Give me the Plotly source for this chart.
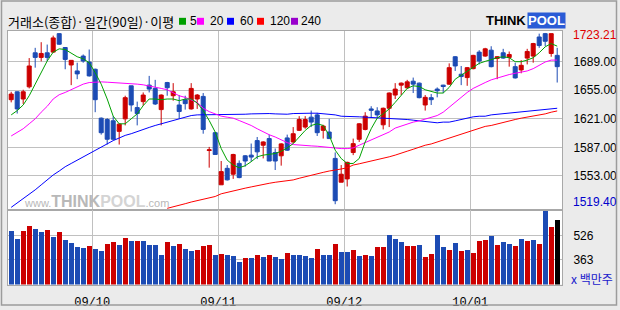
import plotly.graph_objects as go

# ---------------- data ----------------
opens = [1643.8, 1653.2, 1644.6, 1659.1, 1699.6, 1694.1, 1699.6, 1700.4, 1722.4, 1705.9,
         1685.1, 1678.0, 1695.7, 1688.6, 1680.0, 1621.8, 1620.2, 1618.7, 1606.1, 1621.0,
         1660.3, 1634.4, 1641.5, 1661.1, 1657.2, 1632.0, 1664.2, 1648.5, 1637.5, 1643.8,
         1632.8, 1644.6, 1647.7, 1583.3, 1604.5, 1542.5, 1562.1, 1555.1, 1568.0, 1577.0,
         1577.8, 1595.1, 1589.6, 1597.5, 1580.9, 1577.0, 1598.3, 1593.5, 1607.3, 1611.2,
         1623.0, 1625.7, 1607.3, 1605.3, 1573.9, 1545.6, 1549.5, 1580.9, 1596.7, 1608.4,
         1632.8, 1630.4, 1613.9, 1633.6, 1649.3, 1661.1, 1658.0, 1665.8, 1663.5, 1637.5,
         1646.2, 1656.4, 1661.1, 1662.3, 1694.9, 1674.1, 1670.1, 1680.7, 1700.4, 1695.7,
         1702.7, 1692.9, 1699.6, 1694.1, 1683.1, 1679.2, 1693.3, 1695.7, 1718.4, 1722.4,
         1698.8, 1696.5]
highs = [1653.2, 1653.6, 1655.6, 1693.3, 1705.5, 1712.2, 1709.4, 1720.0, 1722.8, 1706.3,
         1690.6, 1687.8, 1697.6, 1703.5, 1680.7, 1622.6, 1621.8, 1624.2, 1615.5, 1648.5,
         1660.3, 1641.5, 1652.4, 1672.1, 1667.4, 1650.1, 1665.0, 1663.5, 1649.3, 1648.5,
         1663.5, 1650.5, 1651.7, 1587.6, 1605.3, 1570.8, 1566.0, 1579.4, 1571.5, 1577.8,
         1591.6, 1599.4, 1594.3, 1602.2, 1585.7, 1592.0, 1602.2, 1611.2, 1624.2, 1624.2,
         1630.8, 1628.1, 1613.9, 1621.0, 1581.0, 1566.0, 1570.0, 1597.5, 1615.9, 1628.9,
         1636.0, 1634.8, 1634.4, 1652.4, 1663.5, 1664.2, 1667.4, 1670.1, 1664.2, 1649.3,
         1650.5, 1658.4, 1661.5, 1687.0, 1695.7, 1683.9, 1682.7, 1697.2, 1702.7, 1705.5,
         1707.4, 1695.7, 1704.3, 1701.1, 1687.8, 1690.9, 1704.3, 1711.4, 1722.4, 1723.21,
         1722.4, 1705.5]
lows = [1640.6, 1627.3, 1638.7, 1657.2, 1681.9, 1689.4, 1689.8, 1699.6, 1709.0, 1680.0,
        1661.1, 1668.2, 1687.8, 1671.3, 1628.9, 1602.2, 1590.4, 1595.9, 1590.4, 1613.2,
        1629.7, 1613.2, 1636.7, 1652.4, 1637.5, 1613.2, 1648.5, 1642.6, 1621.0, 1632.0,
        1632.0, 1632.8, 1603.3, 1562.9, 1578.6, 1542.5, 1547.6, 1549.5, 1550.3, 1564.1,
        1570.0, 1573.1, 1573.9, 1570.8, 1560.1, 1565.3, 1582.9, 1591.6, 1606.5, 1609.2,
        1611.2, 1600.6, 1597.5, 1597.5, 1519.4, 1545.6, 1540.5, 1577.8, 1593.5, 1607.3,
        1623.0, 1621.8, 1608.4, 1611.2, 1644.6, 1649.3, 1656.4, 1651.7, 1645.4, 1630.8,
        1637.5, 1646.6, 1651.7, 1661.5, 1678.0, 1661.1, 1660.3, 1680.0, 1685.8, 1694.9,
        1682.3, 1668.2, 1692.5, 1683.1, 1668.9, 1675.2, 1685.8, 1687.8, 1705.5, 1707.4,
        1694.9, 1664.2]
closes = [1650.5, 1632.8, 1653.2, 1683.9, 1694.1, 1698.8, 1694.1, 1717.3, 1709.8, 1691.7,
          1690.6, 1674.5, 1689.8, 1672.1, 1643.8, 1604.5, 1596.7, 1596.7, 1614.7, 1646.2,
          1637.5, 1627.3, 1649.3, 1656.4, 1638.7, 1649.3, 1658.0, 1653.2, 1629.7, 1639.1,
          1657.2, 1649.3, 1608.4, 1584.1, 1578.6, 1558.2, 1548.4, 1578.6, 1551.1, 1570.8,
          1575.5, 1581.7, 1593.5, 1570.8, 1570.8, 1591.2, 1583.7, 1603.3, 1620.2, 1620.2,
          1617.1, 1604.5, 1612.4, 1597.5, 1523.6, 1555.1, 1569.2, 1591.5, 1615.1, 1624.2,
          1631.2, 1625.7, 1633.6, 1651.7, 1656.4, 1663.5, 1665.0, 1662.3, 1646.2, 1646.6,
          1643.8, 1654.4, 1659.5, 1681.9, 1683.9, 1671.3, 1681.9, 1696.5, 1689.8, 1704.3,
          1683.1, 1694.9, 1693.3, 1697.6, 1669.7, 1684.7, 1701.2, 1710.6, 1708.2, 1713.3,
          1722.4, 1683.1]

ma5 = [1625.7, 1630.8, 1637.5, 1648.5, 1662.3, 1676.0, 1689.8, 1700.4, 1704.3, 1703.5,
       1698.8, 1694.9, 1692.5, 1687.8, 1676.0, 1662.3, 1644.6, 1624.2, 1615.1, 1615.1,
       1621.0, 1626.9, 1636.7, 1644.6, 1644.6, 1643.8, 1644.6, 1644.6, 1642.6, 1644.6,
       1644.6, 1639.9, 1630.8, 1619.0, 1605.3, 1585.7, 1571.9, 1566.0, 1562.8, 1565.2,
       1570.0, 1575.8, 1577.8, 1578.6, 1579.7, 1582.5, 1586.4, 1591.5, 1599.4, 1607.2,
       1613.1, 1615.1, 1613.1, 1601.3, 1583.7, 1573.8, 1567.9, 1567.9, 1573.8, 1593.5,
       1609.2, 1621.8, 1626.9, 1632.8, 1640.6, 1648.5, 1657.2, 1660.3, 1659.5, 1655.6,
       1653.2, 1651.7, 1651.7, 1658.4, 1668.2, 1672.9, 1678.0, 1683.1, 1687.0, 1689.4,
       1691.7, 1693.7, 1694.9, 1693.7, 1689.0, 1689.0, 1690.9, 1693.7, 1699.6, 1706.7,
       1710.6, 1707.5]
ma20 = [1600.6, 1604.5, 1609.2, 1615.1, 1621.0, 1628.9, 1635.9, 1644.6, 1649.7, 1652.4,
        1655.6, 1659.5, 1662.3, 1664.2, 1665.0, 1665.0, 1664.6, 1664.2, 1664.2, 1663.4,
        1663.0, 1662.3, 1661.5, 1660.3, 1658.4, 1657.2, 1655.6, 1652.4, 1648.5, 1646.5,
        1643.8, 1640.6, 1633.6, 1629.6, 1626.9, 1624.2, 1623.0, 1621.8, 1619.0, 1616.3,
        1613.1, 1609.2, 1605.3, 1602.1, 1599.4, 1596.0, 1592.7, 1590.4, 1589.6, 1588.8,
        1588.8, 1588.4, 1587.6, 1586.4, 1585.6, 1585.6, 1585.6, 1586.4, 1589.6, 1592.7,
        1595.4, 1598.2, 1601.3, 1605.3, 1610.0, 1612.3, 1615.1, 1617.1, 1618.6, 1621.0,
        1623.0, 1624.9, 1628.9, 1634.8, 1640.6, 1646.5, 1652.4, 1657.2, 1661.1, 1664.2,
        1667.4, 1669.7, 1672.1, 1673.7, 1675.2, 1676.8, 1678.0, 1680.7, 1684.7, 1688.6,
        1690.9, 1690.9]
ma60 = [1515.7, 1520.8, 1525.9, 1531.4, 1536.5, 1542.4, 1548.3, 1554.2, 1558.9, 1564.0,
        1567.9, 1571.9, 1575.8, 1579.7, 1583.3, 1587.6, 1591.5, 1595.1, 1598.2, 1601.3,
        1603.3, 1606.1, 1608.4, 1610.8, 1613.1, 1615.1, 1617.1, 1619.8, 1621.8, 1623.4,
        1624.9, 1625.7, 1625.7, 1626.1, 1626.5, 1625.7, 1625.7, 1626.1, 1626.5, 1626.5,
        1626.9, 1627.3, 1627.3, 1627.3, 1626.9, 1626.5, 1626.5, 1627.3, 1627.7, 1627.7,
        1627.7, 1627.7, 1627.3, 1626.5, 1625.7, 1624.1, 1624.1, 1624.1, 1623.4, 1623.0,
        1622.6, 1622.6, 1621.8, 1621.8, 1621.8, 1621.0, 1620.2, 1619.4, 1618.6, 1617.1,
        1617.1, 1616.3, 1617.1, 1617.1, 1618.6, 1620.2, 1621.8, 1623.4, 1624.1, 1624.1,
        1625.7, 1626.5, 1627.3, 1628.1, 1628.1, 1628.9, 1629.6, 1630.4, 1632.0, 1632.8,
        1633.6, 1633.6]
ma120 = [None] * 26 + [
        1514.5, 1516.1, 1518.0, 1520.0, 1522.0, 1523.5, 1525.1, 1526.7, 1528.6, 1531.8,
        1533.7, 1535.3, 1536.9, 1538.5, 1540.0, 1541.6, 1543.2, 1544.3, 1545.5, 1546.3,
        1547.9, 1548.3, 1550.3, 1552.2, 1554.2, 1555.8, 1557.3, 1558.9, 1559.7, 1561.3,
        1562.8, 1566.0, 1567.5, 1569.1, 1570.7, 1571.9, 1573.8, 1575.8, 1577.8, 1579.7,
        1582.5, 1584.8, 1587.6, 1589.6, 1591.1, 1593.5, 1595.4, 1598.2, 1600.6, 1602.9,
        1605.3, 1607.6, 1610.0, 1612.0, 1613.1, 1615.1, 1617.1, 1619.0, 1620.2, 1621.8,
        1623.0, 1624.2, 1625.7, 1626.9, 1628.9, 1630.4]

volume = [550.6, 497.0, 550.6, 584.1, 564.0, 543.9, 557.3, 510.4, 543.9, 490.3,
          470.2, 443.4, 436.7, 450.1, 430.0, 416.6, 463.5, 476.9, 456.8, 503.7,
          483.6, 483.6, 483.6, 456.8, 456.8, 389.8, 476.9, 450.1, 463.5, 430.0,
          416.6, 423.3, 450.1, 456.8, 389.8, 396.5, 389.8, 383.1, 342.9, 369.7,
          369.7, 389.8, 376.4, 389.8, 376.4, 363.0, 403.2, 389.8, 389.8, 380.9,
          369.7, 430.0, 389.8, 389.8, 463.5, 409.9, 409.9, 423.3, 383.1, 389.8,
          383.1, 443.4, 443.4, 523.8, 497.0, 476.9, 450.1, 450.1, 456.8, 376.4,
          396.5, 523.8, 443.4, 423.3, 470.2, 416.6, 423.3, 403.2, 485.8, 490.3,
          517.1, 456.8, 476.9, 463.5, 450.1, 497.0, 483.6, 490.3, 463.5, 684.5,
          577.4, 624.3]
volume_up = "BBRRBBRBRBBBBRBBRRBRBRBBBBRBRBBRRRBRBBBRBRBRBBRBBBBRBBRBBRBRBRRBBBRRBRRBBRBRBRRRBRBBRBRBRBR"

price_ticks = [1553, 1587, 1621, 1655, 1689]
price_max, price_min = 1723.21, 1519.40
vol_ticks = [363, 526]
month_labels = ["09/10", "09/11", "09/12", "10/01"]
month_first_bar = [14, 35, 56, 77]
ma_periods = ["5", "20", "60", "120", "240"]

# ---------------- styling ----------------
W, H = 620, 310
def px(x): return x / W
def py(y): return 1 - y / H

RED = "#cc0000"
BLUE = "#1c4bb4"
GRID = "#c0c0c0"
FRAME = "#a8a8a8"
MA_COLORS = ["#00a000", "#ff00ff", "#0000ff", "#ff0000", "#9900cc"]
NUM_FONT = "Liberation Sans, Arial, sans-serif"

idx = list(range(len(opens)))
month_pos = [b - 0.5 for b in month_first_bar]
vol_colors = [RED if c == "R" else BLUE for c in volume_up]

fig = go.Figure()

for ma, col in zip([ma120, ma60, ma20, ma5], [MA_COLORS[3], MA_COLORS[2], MA_COLORS[1], MA_COLORS[0]]):
    fig.add_trace(go.Scatter(x=idx, y=ma, mode="lines", line=dict(color=col, width=1),
                             xaxis="x", yaxis="y", hoverinfo="skip", connectgaps=False))

fig.add_trace(go.Candlestick(
    x=idx, open=opens, high=highs, low=lows, close=closes,
    increasing=dict(line=dict(color=RED, width=1), fillcolor=RED),
    decreasing=dict(line=dict(color=BLUE, width=1), fillcolor=BLUE),
    whiskerwidth=0, xaxis="x", yaxis="y"))

fig.add_trace(go.Bar(x=idx, y=volume, marker=dict(color=vol_colors, line=dict(width=0)),
                     width=0.83, xaxis="x2", yaxis="y2"))

xr = [(8 - 11.2) / 6, (562 - 11.2) / 6]
p_top = 1689 + (62.3 - 31) * 1.1785
p_bot = 1689 - (212.5 - 62.3) * 1.1785
v_top = 526 + (113 - 37.5) * 2.233
v_bot = 526 - (261.9 - 113) * 2.233

axis_common = dict(showline=True, mirror=True, linecolor=FRAME, linewidth=1,
                   zeroline=False, showgrid=True, gridcolor=GRID, gridwidth=1, ticks="",
                   fixedrange=True)

fig.update_layout(
    width=W, height=H, margin=dict(l=0, r=0, t=0, b=0),
    paper_bgcolor="#ebebeb", plot_bgcolor="white", showlegend=False,
    boxgap=0.33, boxgroupgap=0, bargap=0,
    xaxis=dict(domain=[px(8), px(562)], range=xr, anchor="y", tickvals=month_pos,
               showticklabels=False, rangeslider=dict(visible=False), **axis_common),
    yaxis=dict(domain=[py(212.5), py(31)], range=[p_bot, p_top], side="right", anchor="x",
               tickvals=price_ticks, ticktext=[f"{v:.2f}" for v in price_ticks],
               tickfont=dict(family=NUM_FONT, size=12, color="black"),
               ticklabelstandoff=8, **axis_common),
    xaxis2=dict(domain=[px(8), px(562)], range=xr, anchor="y2", tickvals=month_pos,
                ticktext=month_labels, tickfont=dict(family="Liberation Mono, monospace", size=12, color="black"),
                ticklabelstandoff=6, **axis_common),
    yaxis2=dict(domain=[py(287.3), py(212.5)], range=[v_bot, v_top], side="right", anchor="x2",
                tickvals=vol_ticks, ticktext=[str(v) for v in vol_ticks],
                tickfont=dict(family=NUM_FONT, size=12, color="black"),
                ticklabelstandoff=8, **axis_common),
)

ann = []
def text(x, y, t, size=12, color="black", family=NUM_FONT, xanchor="left", **kw):
    d = dict(x=x, y=y, xref="paper", yref="paper", text=t, showarrow=False,
             xanchor=xanchor, yanchor="middle", font=dict(size=size, color=color, family=family))
    d.update(kw)
    ann.append(d)

# header
text(px(6), py(21.5), "거래소(종합)·일간(90일)·이평", size=13, family="Noto Sans CJK KR, sans-serif")
sq_x = [179, 197, 227, 257, 291]
lbl_x = [188, 208, 238, 268, 299]
shapes = []
for sx, lx, col, lab in zip(sq_x, lbl_x, MA_COLORS, ma_periods):
    shapes.append(dict(type="rect", xref="paper", yref="paper", x0=px(sx), x1=px(sx + 7),
                       y0=py(25), y1=py(18), fillcolor=col, line=dict(width=0)))
    text(px(lx), py(21.5), lab, size=12)

# logo
text(px(527), py(21), "<b>THINK</b>", size=13, color="black", family="Liberation Sans, Arial",
     xanchor="right", borderpad=0)
text(px(527), py(21), "<b>POOL</b>", size=13, color="white", family="Liberation Sans, Arial",
     bgcolor="#2a5bd6", borderpad=0)

# watermark (single line, sizes via spans)
text(px(22), py(203),
     "www.<span style='font-size:16px'><b>THINK</b></span>"
     "<span style='font-size:16px;color:#d4d4d4'><b>POOL</b></span>.com",
     size=11, color="#b8b8b8", family="Liberation Sans, Arial")

# max / min labels
ann.append(dict(x=px(571), y=price_max, xref="paper", yref="y", text=f"{price_max:.2f}",
                showarrow=False, xanchor="left", yanchor="middle", yshift=-2,
                font=dict(size=12, color="#e00000", family=NUM_FONT)))
ann.append(dict(x=px(571), y=price_min, xref="paper", yref="y", text=f"{price_min:.2f}",
                showarrow=False, xanchor="left", yanchor="middle", yshift=2,
                font=dict(size=12, color="#0000cc", family=NUM_FONT)))
text(px(569), py(281), "x 백만주", size=12, color="#2020cc", family="Noto Sans CJK KR, sans-serif")

# outer frame
shapes.append(dict(type="rect", xref="paper", yref="paper", x0=px(1.5), x1=px(616.5),
                   y0=py(308), y1=py(1), line=dict(color="#9c9c9c", width=1.5)))

fig.update_layout(annotations=ann, shapes=shapes)
fig.write_html("out.html")
